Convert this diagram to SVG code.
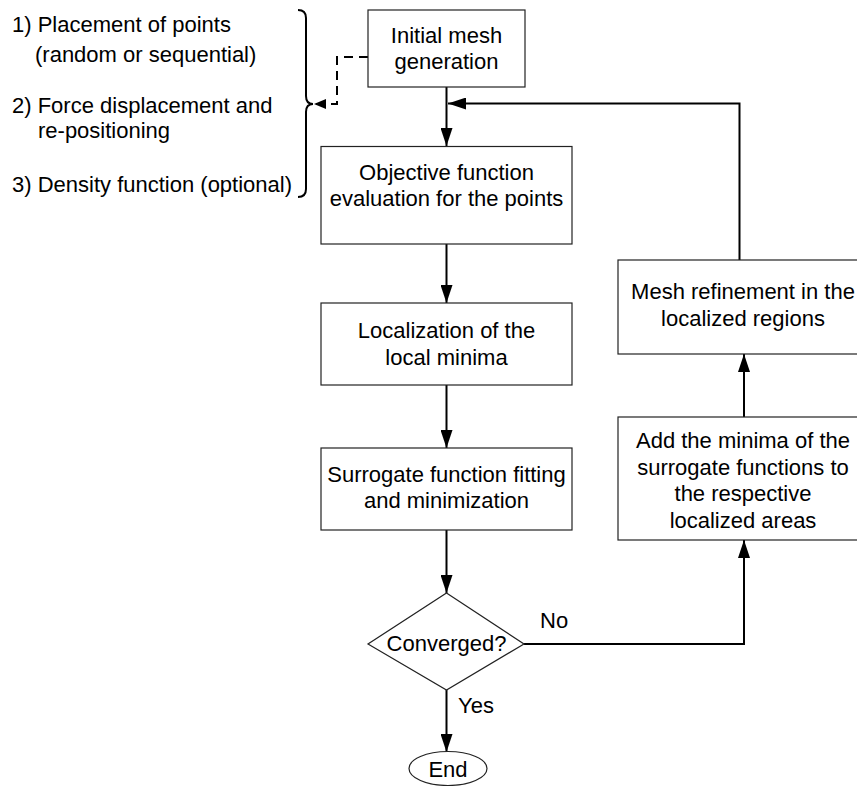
<svg xmlns="http://www.w3.org/2000/svg" width="857" height="786" viewBox="0 0 857 786">
<defs>
<marker id="arr" markerUnits="userSpaceOnUse" markerWidth="18" markerHeight="12" refX="18" refY="6" orient="auto">
<path d="M0,0 L18,6 L0,12 z" fill="#000"/>
</marker>
<marker id="arrs" markerUnits="userSpaceOnUse" markerWidth="12" markerHeight="10" refX="12" refY="5" orient="auto">
<path d="M0,0 L12,5 L0,10 z" fill="#000"/>
</marker>
<style>
text{font-family:"Liberation Sans",Arial,sans-serif;font-size:22px;fill:#000}
.c{text-anchor:middle}
.box{fill:#fff;stroke:#222;stroke-width:1.2}
.ln{fill:none;stroke:#000;stroke-width:2}
</style>
</defs>
<rect width="857" height="786" fill="#fff"/>

<g id="notes">
<text x="12" y="32">1) Placement of points</text>
<text x="35" y="62">(random or sequential)</text>
<text x="12" y="113">2) Force displacement and</text>
<text x="38" y="138">re-positioning</text>
<text x="12" y="192">3) Density function (optional)</text>
<path class="ln" d="M298,10 Q306,10 306,18 L306,96 Q306,104 313,104 Q306,104 306,112 L306,189 Q306,197 298,197"/>
</g>

<g id="connectors">
<path class="ln" d="M368,57 L337,57 L337,104 L314,104" stroke-dasharray="9,6" marker-end="url(#arrs)"/>
<path class="ln" d="M446.5,87 L446.5,146" marker-end="url(#arr)"/>
<path class="ln" d="M739.5,260 L739.5,103.5 L448,103.5" marker-end="url(#arr)"/>
<path class="ln" d="M446.5,244 L446.5,303" marker-end="url(#arr)"/>
<path class="ln" d="M446.5,385 L446.5,448" marker-end="url(#arr)"/>
<path class="ln" d="M446.5,530 L446.5,593" marker-end="url(#arr)"/>
<path class="ln" d="M524,644 L744,644 L744,540" marker-end="url(#arr)"/>
<path class="ln" d="M744,417 L744,354" marker-end="url(#arr)"/>
<path class="ln" d="M446.5,690 L446.5,752" marker-end="url(#arr)"/>
<text x="540" y="628">No</text>
<text x="458" y="713">Yes</text>
</g>

<g id="initial">
<rect class="box" x="368" y="10" width="157" height="77"/>
<text class="c" x="446.5" y="43">Initial mesh</text>
<text class="c" x="446.5" y="69">generation</text>
</g>

<g id="objective">
<rect class="box" x="321" y="146.5" width="251" height="97.5"/>
<text class="c" x="446.5" y="180">Objective function</text>
<text class="c" x="446.5" y="206">evaluation for the points</text>
</g>

<g id="localization">
<rect class="box" x="321" y="303" width="251" height="82"/>
<text class="c" x="446.5" y="338">Localization of the</text>
<text class="c" x="446.5" y="365">local minima</text>
</g>

<g id="surrogate">
<rect class="box" x="321" y="448" width="251" height="82"/>
<text class="c" x="446.5" y="482">Surrogate function fitting</text>
<text class="c" x="446.5" y="508">and minimization</text>
</g>

<g id="converged">
<path class="box" d="M446.5,593 L524,644 L446.5,690 L368,644 z"/>
<text class="c" x="446.5" y="651">Converged?</text>
</g>

<g id="end">
<ellipse class="box" cx="448" cy="768.5" rx="39" ry="17"/>
<text class="c" x="448" y="777">End</text>
</g>

<g id="add">
<rect class="box" x="618" y="417" width="250" height="123"/>
<text class="c" x="743" y="448">Add the minima of the</text>
<text class="c" x="743" y="475">surrogate functions to</text>
<text class="c" x="743" y="501">the respective</text>
<text class="c" x="743" y="528">localized areas</text>
</g>

<g id="refine">
<rect class="box" x="618" y="260" width="250" height="94"/>
<text class="c" x="743" y="299">Mesh refinement in the</text>
<text class="c" x="743" y="326">localized regions</text>
</g>
</svg>
